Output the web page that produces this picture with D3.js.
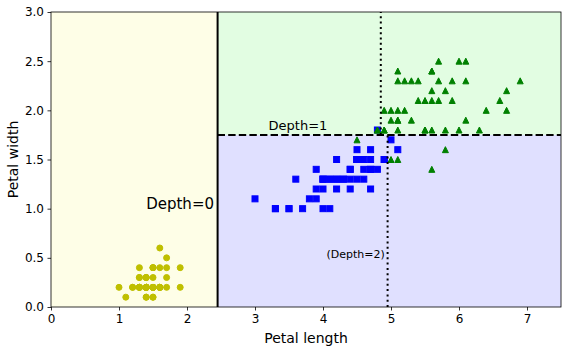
<!DOCTYPE html>
<html><head><meta charset="utf-8">
<script src="https://cdn.jsdelivr.net/npm/d3@7"></script>
<style>body{margin:0;background:#fff}svg{display:block;font-family:"DejaVu Sans",sans-serif}</style>
</head><body><svg id="c" width="568" height="352"></svg>
<script>
const setosa = [[1.4,0.2],[1.4,0.2],[1.3,0.2],[1.5,0.2],[1.4,0.2],[1.7,0.4],[1.4,0.3],[1.5,0.2],[1.4,0.2],[1.5,0.1],[1.5,0.2],[1.6,0.2],[1.4,0.1],[1.1,0.1],[1.2,0.2],[1.5,0.4],[1.3,0.4],[1.4,0.3],[1.7,0.3],[1.5,0.3],[1.7,0.2],[1.5,0.4],[1.0,0.2],[1.7,0.5],[1.9,0.2],[1.6,0.2],[1.6,0.4],[1.5,0.2],[1.4,0.2],[1.6,0.2],[1.6,0.2],[1.5,0.4],[1.5,0.1],[1.4,0.2],[1.5,0.2],[1.2,0.2],[1.3,0.2],[1.4,0.1],[1.3,0.2],[1.5,0.2],[1.3,0.3],[1.3,0.3],[1.3,0.2],[1.6,0.6],[1.9,0.4],[1.4,0.3],[1.6,0.2],[1.4,0.2],[1.5,0.2],[1.4,0.2]];
const versicolor = [[4.7,1.4],[4.5,1.5],[4.9,1.5],[4.0,1.3],[4.6,1.5],[4.5,1.3],[4.7,1.6],[3.3,1.0],[4.6,1.3],[3.9,1.4],[3.5,1.0],[4.2,1.5],[4.0,1.0],[4.7,1.4],[3.6,1.3],[4.4,1.4],[4.5,1.5],[4.1,1.0],[4.5,1.5],[3.9,1.1],[4.8,1.8],[4.0,1.3],[4.9,1.5],[4.7,1.2],[4.3,1.3],[4.4,1.4],[4.8,1.4],[5.0,1.7],[4.5,1.5],[3.5,1.0],[3.8,1.1],[3.7,1.0],[3.9,1.2],[5.1,1.6],[4.5,1.5],[4.5,1.6],[4.7,1.5],[4.4,1.3],[4.1,1.3],[4.0,1.3],[4.4,1.2],[4.6,1.4],[4.0,1.2],[3.3,1.0],[4.2,1.3],[4.2,1.2],[4.2,1.3],[4.3,1.3],[3.0,1.1],[4.1,1.3]];
const virginica = [[6.0,2.5],[5.1,1.9],[5.9,2.1],[5.6,1.8],[5.8,2.2],[6.6,2.1],[4.5,1.7],[6.3,1.8],[5.8,1.8],[6.1,2.5],[5.1,2.0],[5.3,1.9],[5.5,2.1],[5.0,2.0],[5.1,2.4],[5.3,2.3],[5.5,1.8],[6.7,2.2],[6.9,2.3],[5.0,1.5],[5.7,2.3],[4.9,2.0],[6.7,2.0],[4.9,1.8],[5.7,2.1],[6.0,1.8],[4.8,1.8],[4.9,1.8],[5.6,2.1],[5.8,1.6],[6.1,1.9],[6.4,2.0],[5.6,2.2],[5.1,1.5],[5.6,1.4],[6.1,2.3],[5.6,2.4],[5.5,1.8],[4.8,1.8],[5.4,2.1],[5.6,2.4],[5.1,2.3],[5.1,1.9],[5.9,2.3],[5.7,2.5],[5.2,2.3],[5.0,1.9],[5.2,2.0],[5.4,2.3],[5.1,1.8]];
const xTicks = [0,1,2,3,4,5,6,7];
const yTicks = [0.0,0.5,1.0,1.5,2.0,2.5,3.0];
const xDomain = [0,7.5], yDomain = [0,3];
const split0 = 2.45, split1 = 1.75, split2a = 4.95, split2b = 4.85;

const svg = d3.select("#c");
const L=51, R=561, T=12, B=307;
const x = d3.scaleLinear().domain(xDomain).range([L,R]);
const y = d3.scaleLinear().domain(yDomain).range([B,T]);

// regions
svg.append("rect").attr("x",x(0)).attr("y",y(3)).attr("width",x(split0)-x(0)).attr("height",y(0)-y(3)).attr("fill","#fefee7");
svg.append("rect").attr("x",x(split0)).attr("y",y(3)).attr("width",x(7.5)-x(split0)).attr("height",y(split1)-y(3)).attr("fill","#e2fde2");
svg.append("rect").attr("x",x(split0)).attr("y",y(split1)).attr("width",x(7.5)-x(split0)).attr("height",y(0)-y(split1)).attr("fill","#e0e0ff");

// points
svg.append("g").selectAll("circle").data(setosa).join("circle")
  .attr("cx",d=>x(d[0])).attr("cy",d=>y(d[1])).attr("r",3).attr("fill","#bfbf00").attr("stroke","#bfbf00").attr("stroke-width",1);
svg.append("g").selectAll("rect").data(versicolor).join("rect")
  .attr("x",d=>x(d[0])-3).attr("y",d=>y(d[1])-3).attr("width",6).attr("height",6).attr("fill","#0000ff").attr("stroke","#0000ff").attr("stroke-width",1);
svg.append("g").selectAll("path").data(virginica).join("path")
  .attr("d",d=>{const cx=x(d[0]),cy=y(d[1]);return `M${cx},${cy-3}L${cx+3},${cy+3}L${cx-3},${cy+3}Z`;})
  .attr("fill","#008000").attr("stroke","#008000").attr("stroke-width",1).attr("stroke-linejoin","miter");

// boundaries
svg.append("line").attr("x1",x(split0)).attr("x2",x(split0)).attr("y1",y(0)).attr("y2",y(3)).attr("stroke","#000").attr("stroke-width",2);
svg.append("line").attr("x1",x(split0)).attr("x2",x(7.5)).attr("y1",y(split1)).attr("y2",y(split1)).attr("stroke","#000").attr("stroke-width",2).attr("stroke-dasharray","7.4,3.2");
svg.append("line").attr("x1",x(split2a)).attr("x2",x(split2a)).attr("y1",y(0)).attr("y2",y(split1)).attr("stroke","#000").attr("stroke-width",2).attr("stroke-dasharray","2,3.3");
svg.append("line").attr("x1",x(split2b)).attr("x2",x(split2b)).attr("y1",y(split1)).attr("y2",y(3)).attr("stroke","#000").attr("stroke-width",2).attr("stroke-dasharray","2,3.3");

// texts
svg.append("text").attr("x",x(1.40)).attr("y",y(1.0)).attr("font-size",15).attr("fill","#000").text("Depth=0");
svg.append("text").attr("x",x(3.2)).attr("y",y(1.80)).attr("font-size",13).attr("fill","#000").text("Depth=1");
svg.append("text").attr("x",x(4.05)).attr("y",y(0.5)).attr("font-size",11).attr("fill","#000").text("(Depth=2)");

// axes
const xa = svg.append("g").attr("transform",`translate(0,${B})`).call(d3.axisBottom(x).tickValues(xTicks).tickFormat(d3.format("d")).tickSize(3.5).tickPadding(3.5));
const ya = svg.append("g").attr("transform",`translate(${L},0)`).call(d3.axisLeft(y).tickValues(yTicks).tickFormat(d3.format(".1f")).tickSize(3.5).tickPadding(3.5));
[xa,ya].forEach(a=>{a.select(".domain").remove();a.selectAll("text").attr("font-size",12).attr("font-family","DejaVu Sans").attr("fill","#000");a.selectAll("line").attr("stroke","#000").attr("stroke-width",0.8);});
svg.append("rect").attr("x",L).attr("y",T).attr("width",R-L).attr("height",B-T).attr("fill","none").attr("stroke","#000").attr("stroke-width",0.8);

svg.append("text").attr("x",(L+R)/2).attr("y",343).attr("text-anchor","middle").attr("font-size",14).attr("fill","#000").text("Petal length");
svg.append("text").attr("transform",`translate(18,${(T+B)/2}) rotate(-90)`).attr("text-anchor","middle").attr("font-size",14).attr("fill","#000").text("Petal width");
</script></body></html>
